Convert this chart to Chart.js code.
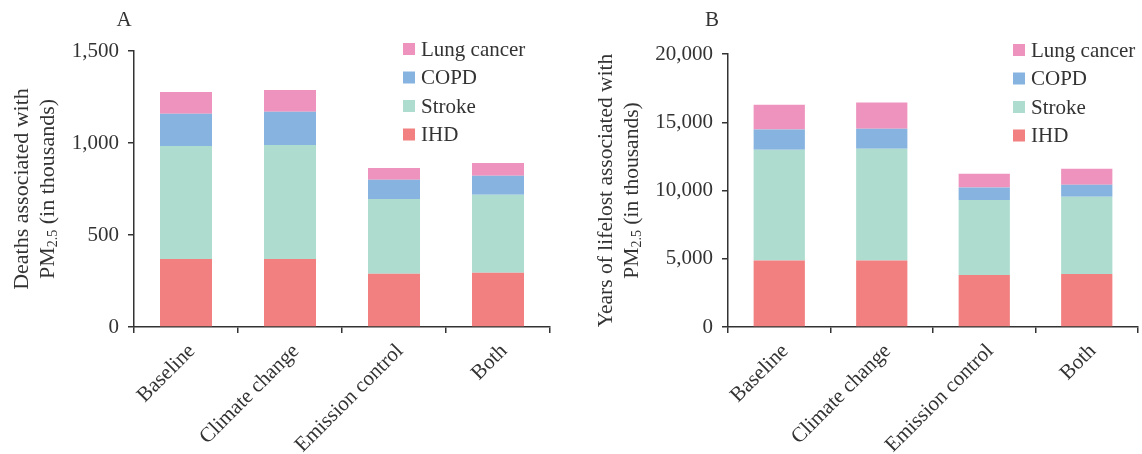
<!DOCTYPE html>
<html>
<head>
<meta charset="utf-8">
<script src="https://cdn.jsdelivr.net/npm/chart.js@4.4.1/dist/chart.umd.min.js"></script>
<style>
  html, body { margin: 0; padding: 0; background: #fff; }
  .wrap { display: flex; width: 1142px; height: 454px; }
  .box { position: relative; width: 571px; height: 454px; }
</style>
</head>
<body>
<div class="wrap">
  <div class="box"><canvas id="deathsChart"></canvas></div>
  <div class="box"><canvas id="yllChart"></canvas></div>
</div>
<script>
const categories = ["Baseline", "Climate change", "Emission control", "Both"];
const causes = ["IHD", "Stroke", "COPD", "Lung cancer"];
const causeColors = ["#f28080", "#aeddcf", "#86b3df", "#ee93bd"];

// Panel A: deaths (thousands)
const deathsIHD    = [370, 370, 290, 295];
const deathsStroke = [614, 619, 406, 424];
const deathsCOPD   = [175, 181, 104, 103];
const deathsLung   = [118, 118, 64, 69];

// Panel B: years of life lost (thousands)
const yllIHD    = [4870, 4870, 3810, 3890];
const yllStroke = [8110, 8190, 5500, 5650];
const yllCOPD   = [1490, 1470, 910, 880];
const yllLung   = [1810, 1910, 1000, 1170];

const FONT = "'Liberation Serif', 'Times New Roman', serif";
const INK = "#333";

// draws the panel letter, rotated y title (with PM subscript) and the legend box
const decorPlugin = {
  id: "decor",
  afterDraw(chart, args, opts) {
    const ctx = chart.ctx;
    const area = chart.chartArea;
    const cy = (area.top + area.bottom) / 2;
    ctx.save();
    ctx.fillStyle = INK;
    ctx.textBaseline = "middle";

    // panel letter
    ctx.font = "21px " + FONT;
    ctx.textAlign = "center";
    ctx.fillText(opts.letter, opts.letterX, 20);

    // y title line 1
    const big = opts.titleSize + "px " + FONT, small = "14px " + FONT;
    ctx.save();
    ctx.translate(opts.titleX, cy);
    ctx.rotate(-Math.PI / 2);
    ctx.font = big;
    ctx.textAlign = "center";
    ctx.fillText(opts.title, 0, 0);
    ctx.restore();

    // y title line 2 with subscript
    ctx.save();
    ctx.translate(opts.titleX + 26, cy);
    ctx.rotate(-Math.PI / 2);
    ctx.textAlign = "left";
    ctx.font = big;  const w1 = ctx.measureText("PM").width;
    ctx.font = small; const w2 = ctx.measureText("2.5").width;
    ctx.font = big;  const w3 = ctx.measureText(" (in thousands)").width;
    let x = -(w1 + w2 + w3) / 2;
    ctx.font = big;  ctx.fillText("PM", x, 0); x += w1;
    ctx.font = small; ctx.fillText("2.5", x, 5); x += w2;
    ctx.font = big;  ctx.fillText(" (in thousands)", x, 0);
    ctx.restore();

    // legend, top entry = last dataset
    ctx.font = "21px " + FONT;
    ctx.textAlign = "left";
    const ds = chart.data.datasets.slice().reverse();
    ds.forEach((d, i) => {
      const y = opts.legendY + i * 28.5;
      ctx.fillStyle = d.backgroundColor;
      ctx.fillRect(opts.legendX, y - 6, 12, 12);
      ctx.fillStyle = INK;
      ctx.fillText(d.label, opts.legendX + 18, y + 1);
    });
    ctx.restore();
  }
};

function makeChart(id, series, cfg) {
  const datasets = causes.map((name, i) => ({
    label: name,
    data: series[i],
    backgroundColor: causeColors[i],
    borderWidth: 0,
    categoryPercentage: 1,
    barPercentage: 0.5
  }));
  return new Chart(document.getElementById(id), {
    type: "bar",
    data: { labels: categories, datasets: datasets },
    plugins: [decorPlugin],
    options: {
      responsive: true,
      maintainAspectRatio: false,
      animation: false,
      layout: { padding: { left: 0, right: cfg.padRight, top: cfg.padTop, bottom: 0 } },
      plugins: {
        legend: { display: false },
        tooltip: { enabled: false },
        decor: cfg.decor
      },
      scales: {
        x: {
          stacked: true,
          afterFit: s => { s.height = 127; },
          grid: { drawOnChartArea: false, drawTicks: true, tickLength: 6, color: INK, lineWidth: 1.5 },
          border: { display: true, color: INK, width: 1.5 },
          ticks: { color: INK, font: { family: FONT, size: 21 }, minRotation: 45, maxRotation: 45, padding: 6, labelOffset: 6 }
        },
        y: {
          stacked: true,
          min: 0,
          max: cfg.yMax,
          afterFit: s => { s.width = cfg.yWidth; },
          grid: { drawOnChartArea: false, drawTicks: true, tickLength: 6, color: INK, lineWidth: 1.5 },
          border: { display: true, color: INK, width: 1.5 },
          ticks: { color: INK, font: { family: FONT, size: 21 }, stepSize: cfg.step, padding: 9 }
        }
      }
    }
  });
}

makeChart("deathsChart", [deathsIHD, deathsStroke, deathsCOPD, deathsLung], {
  yMax: 1500, step: 500, yWidth: 134, padRight: 21, padTop: 51,
  decor: { letter: "A", letterX: 124, title: "Deaths associated with", titleX: 22, titleSize: 22, legendX: 403, legendY: 49 }
});

makeChart("yllChart", [yllIHD, yllStroke, yllCOPD, yllLung], {
  yMax: 20000, step: 5000, yWidth: 157, padRight: 4, padTop: 54,
  decor: { letter: "B", letterX: 141, title: "Years of lifelost associated with", titleX: 35, titleSize: 21.5, legendX: 442, legendY: 50 }
});
</script>
</body>
</html>
